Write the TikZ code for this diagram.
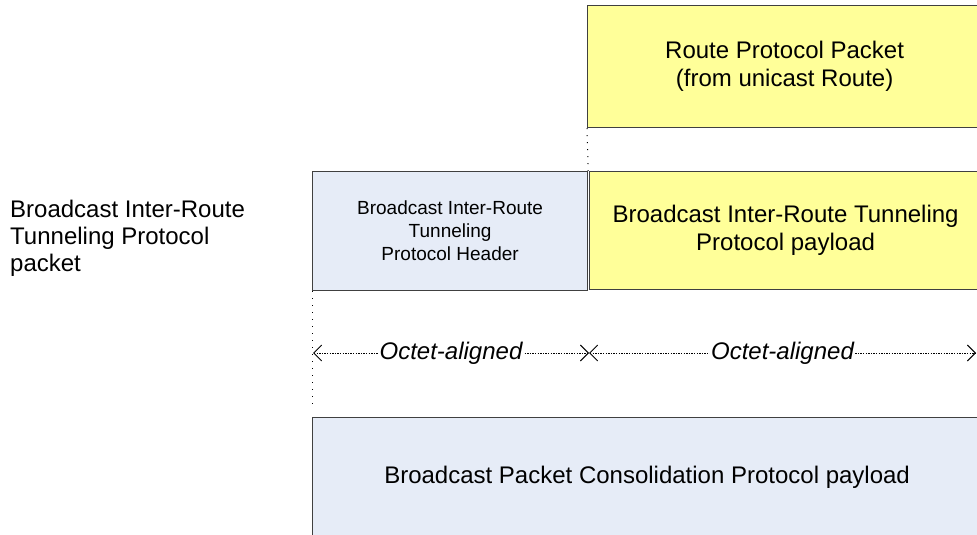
\documentclass[tikz,border=0pt]{standalone}
\usepackage{fontspec}
\setmainfont{Liberation Sans}
\usetikzlibrary{arrows.meta}
\definecolor{paleyellow}{HTML}{FFFF99}
\definecolor{paleblue}{HTML}{E6ECF7}
\definecolor{edgegray}{HTML}{404040}
\begin{document}
\begin{tikzpicture}[x=1pt,y=-1pt,
  field/.style={draw=edgegray, line width=1.2pt, rectangle, inner sep=0pt,
    anchor=north west, align=center, font=\fontsize{24}{28}\selectfont},
  guide/.style={line width=1pt, dash pattern=on 1pt off 6pt},
  span/.style={line width=0.9pt, dash pattern=on 1.3pt off 1.3pt,
    {Straight Barb[length=8pt,width=16pt]}-{Straight Barb[length=8pt,width=16pt]}},
  spanlabel/.style={fill=white, inner sep=1pt, font=\fontsize{24}{28}\selectfont\itshape}]
\useasboundingbox (0,0) rectangle (977,535);
\clip (0,0) rectangle (977,535);

% packet fields
\node[field, fill=paleyellow, minimum width=394pt, minimum height=122pt] (route) at (587,5)
  {Route Protocol Packet\\(from unicast Route)};
\node[field, fill=paleblue, minimum width=275pt, minimum height=119pt,
  font=\fontsize{19}{23}\selectfont] (header) at (312,171)
  {Broadcast Inter-Route\\Tunneling\\Protocol Header};
\node[field, fill=paleyellow, minimum width=392pt, minimum height=118pt] (payload) at (589,171)
  {Broadcast Inter-Route Tunneling\\Protocol payload};
\node[field, fill=paleblue, minimum width=669pt, minimum height=119pt] (bpcp) at (312,417)
  {Broadcast Packet Consolidation Protocol payload};

% caption on the left
\node[anchor=west, align=left, inner sep=0pt, font=\fontsize{24}{27}\selectfont] (pkt) at (10,238)
  {Broadcast Inter-Route\\Tunneling Protocol\\packet};

% alignment guides
\draw[guide] (route.south west) -- (header.north east);
\coordinate (guideend) at (312,405);
\draw[guide] (header.south west) -- (guideend);

% octet alignment spans
\coordinate (mL) at (313,353);
\coordinate (mM) at (589,353);
\coordinate (mR) at (976,353);
\draw[span] (mL) -- node[spanlabel] {Octet-aligned} (mM);
\draw[span] (mM) -- node[spanlabel] {Octet-aligned} (mR);
\end{tikzpicture}
\end{document}
